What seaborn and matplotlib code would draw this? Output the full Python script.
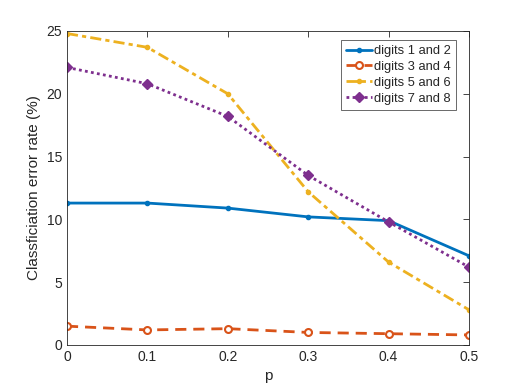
import matplotlib
matplotlib.use("Agg")
from matplotlib import pyplot as plt
import seaborn as sns
import pandas as pd

# error rates (%) for each digit pair versus p
p = [0, 0.1, 0.2, 0.3, 0.4, 0.5]
digits_12 = [11.3, 11.3, 10.9, 10.2, 9.9, 7.1]
digits_34 = [1.5, 1.2, 1.3, 1.0, 0.9, 0.8]
digits_56 = [24.8, 23.7, 20.0, 12.2, 6.6, 2.8]
digits_78 = [22.1, 20.8, 18.2, 13.5, 9.8, 6.2]
labels = ["digits 1 and 2", "digits 3 and 4", "digits 5 and 6", "digits 7 and 8"]

sns.set_style("white")
plt.rcParams['font.family'] = ['Liberation Sans', 'DejaVu Sans']

fig = plt.figure(figsize=(5.18, 3.88), dpi=100)
ax = fig.add_axes([67/518, 1 - 345/388, (469-67)/518, (345-31)/388])

styles = [
    dict(color="#0072BD", linestyle="-", marker=".", markersize=6, mfc="#0072BD"),
    dict(color="#D95319", linestyle=(0, (4, 2.5)), marker="o", markersize=5, mfc="white", mew=1.5),
    dict(color="#EDB120", linestyle=(0, (4, 1.5, 1.5, 1.5)), marker=".", markersize=6, mfc="#EDB120"),
    dict(color="#7E2F8E", linestyle=(0, (1, 1.2)), marker="D", markersize=5.5, mfc="#7E2F8E"),
]

for vals, lab, st in zip([digits_12, digits_34, digits_56, digits_78], labels, styles):
    df = pd.DataFrame({"p": p, "err": vals})
    sns.lineplot(data=df, x="p", y="err", ax=ax, label=lab, linewidth=2,
                 color=st["color"], linestyle=st["linestyle"], marker=st["marker"],
                 markersize=st["markersize"], markerfacecolor=st["mfc"],
                 markeredgecolor=st["color"], markeredgewidth=st.get("mew", 1))

ax.set_xlim(0, 0.5)
ax.set_ylim(0, 25)
ax.set_xticks(p)
ax.set_xticklabels(["0", "0.1", "0.2", "0.3", "0.4", "0.5"])
ax.set_yticks([0, 5, 10, 15, 20, 25])
ax.set_xlabel("p", fontsize=11, color="#262626")
ax.set_ylabel("Classficiation error rate (%)", fontsize=11, color="#262626")
ax.tick_params(direction="in", length=4, width=0.6, colors="#262626", labelsize=10,
               top=True, right=True)
for s in ax.spines.values():
    s.set_color("#262626")
    s.set_linewidth(0.6)

leg = ax.legend(loc="upper right", bbox_to_anchor=(0.975, 0.98), fontsize=9.3,
                frameon=True, fancybox=False, borderpad=0.4, labelspacing=0.3,
                handlelength=2.0, handletextpad=0.2, borderaxespad=0.2)
leg.get_frame().set_edgecolor("#262626")
leg.get_frame().set_linewidth(0.6)

fig.savefig("out.png", dpi=100)
